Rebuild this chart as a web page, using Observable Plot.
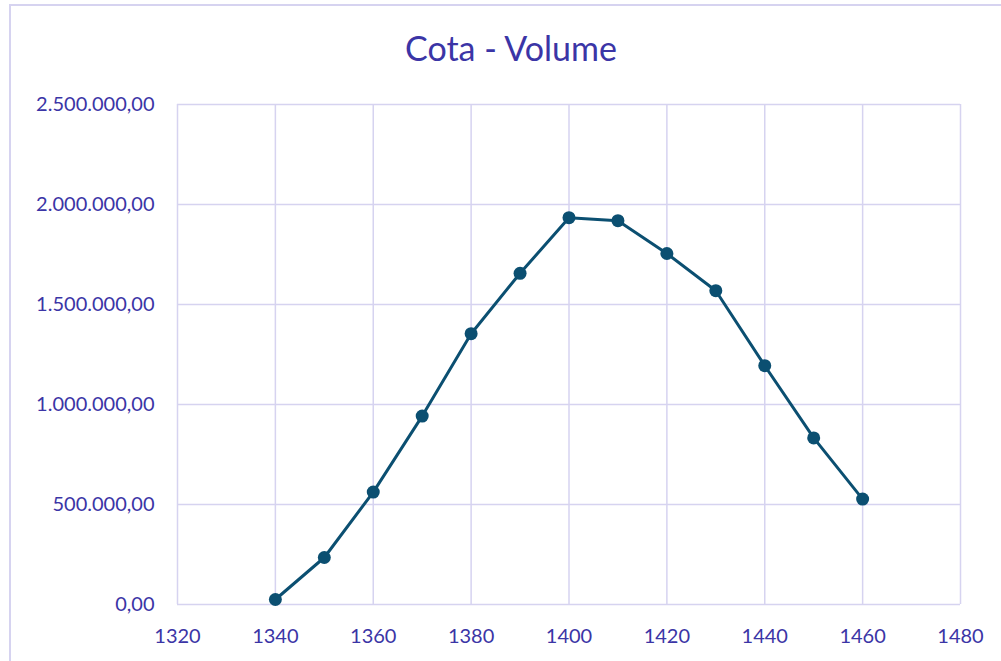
<!DOCTYPE html>
<html>
<head>
<meta charset="utf-8">
<script src="https://cdn.jsdelivr.net/npm/d3@7"></script>
<script src="https://cdn.jsdelivr.net/npm/@observablehq/plot@0.6"></script>
<style>
  html, body { margin: 0; padding: 0; background: #fff; }
  #wrap { position: relative; width: 1001px; height: 661px; overflow: hidden; font-family: Lato, "Noto Sans", sans-serif; }
  #frame { position: absolute; left: 9px; top: 4px; width: 1100px; height: 700px; border-left: 2px solid #d6d3f0; border-top: 2px solid #d6d3f0; box-sizing: border-box; }
  #title { position: absolute; left: 0; top: 0; width: 1022px; height: 80px; line-height: 96px; text-align: center; font-size: 34px; color: #3b35a6; }
  #chart { position: absolute; left: 0; top: 80px; }
</style>
</head>
<body>
<div id="wrap">
  <div id="frame"></div>
  <div id="title">Cota - Volume</div>
  <div id="chart"></div>
</div>
<script>
const cota = [1340, 1350, 1360, 1370, 1380, 1390, 1400, 1410, 1420, 1430, 1440, 1450, 1460];
const volume = [25000, 235000, 562000, 942000, 1354000, 1656000, 1934000, 1919000, 1755000, 1569000, 1194000, 833000, 527000];
const xTicks = [1320, 1340, 1360, 1380, 1400, 1420, 1440, 1460, 1480];
const yTicks = [0, 500000, 1000000, 1500000, 2000000, 2500000];

const data = cota.map((c, i) => ({cota: c, volume: volume[i]}));
const ptBR = d3.formatLocale({decimal: ",", thousands: ".", grouping: [3], currency: ["R$", ""]});
const fmtY = ptBR.format(",.2f");

const textColor = "#3b35a6";
const gridColor = "#d6d3f0";
const lineColor = "#0b4f71";

const plot = Plot.plot({
  width: 1001,
  height: 581,
  marginLeft: 177,
  marginRight: 41,
  marginTop: 24,
  marginBottom: 57,
  style: {fontFamily: "Lato, 'Noto Sans', sans-serif", fontSize: "20px", color: textColor, background: "transparent", overflow: "visible"},
  x: {domain: [1320, 1480], ticks: xTicks, tickFormat: d => String(d)},
  y: {domain: [0, 2500000], ticks: yTicks, tickFormat: fmtY},
  marks: [
    Plot.gridX(xTicks, {stroke: gridColor, strokeOpacity: 1, strokeWidth: 1.5}),
    Plot.gridY(yTicks, {stroke: gridColor, strokeOpacity: 1, strokeWidth: 1.5}),
    Plot.axisX({ticks: xTicks, tickSize: 0, tickPadding: 24, tickFormat: d => String(d), label: null, fill: textColor, fontSize: 20}),
    Plot.axisY({ticks: yTicks, tickSize: 0, tickPadding: 23, tickFormat: fmtY, label: null, fill: textColor, fontSize: 20}),
    Plot.line(data, {x: "cota", y: "volume", stroke: lineColor, strokeWidth: 3}),
    Plot.dot(data, {x: "cota", y: "volume", r: 6.5, fill: lineColor, stroke: "none"})
  ]
});
document.getElementById("chart").appendChild(plot);
</script>
</body>
</html>
